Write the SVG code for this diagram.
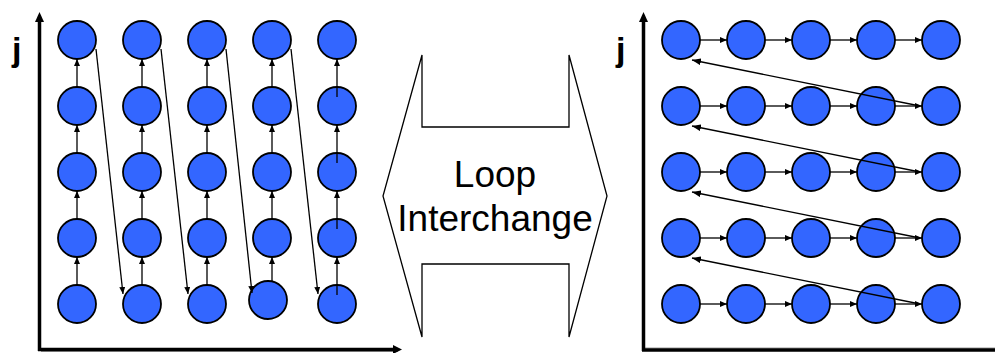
<svg xmlns="http://www.w3.org/2000/svg" width="995" height="353" viewBox="0 0 995 353">
<style>
.n{fill:#3366FF;stroke:#000;stroke-width:1.8}
.c{stroke:#000;stroke-width:1.3;fill:none}
.a{marker-end:url(#ah)}
.d{marker-end:url(#ahb)}
.ax{stroke:#000;stroke-width:3.5;fill:none}
.sh{stroke:#999;stroke-width:1;fill:none}
.lbl{font-family:"Liberation Sans",Arial,sans-serif;font-weight:bold;font-size:34px;fill:#000}
.big{font-family:"Liberation Sans",Arial,sans-serif;font-size:37px;fill:#000;text-anchor:middle}
</style>
<defs>
<marker id="ah" viewBox="0 0 7 6" refX="7" refY="3" markerWidth="7" markerHeight="6" markerUnits="userSpaceOnUse" orient="auto"><path d="M0,0L7,3L0,6z" fill="#000"/></marker>
<marker id="ahb" viewBox="0 0 9 7" refX="9" refY="3.5" markerWidth="9" markerHeight="7" markerUnits="userSpaceOnUse" orient="auto"><path d="M0,0L9,3.5L0,7z" fill="#000"/></marker>
</defs>

<g id="axes-left">
<line class="sh" x1="41" y1="351.5" x2="398" y2="351.5"/>
<line class="ax" x1="39.5" y1="351" x2="39.5" y2="20"/>
<path d="M39.5,12L44,22L35,22z" fill="#000"/>
<line class="ax" x1="38" y1="349.5" x2="394" y2="349.5"/>
<path d="M402,349.5L393,345L393,354z" fill="#000"/>
<text class="lbl" x="12" y="61">j</text>
</g>

<g id="axes-right">
<line class="sh" x1="645" y1="348" x2="995" y2="348"/>
<line class="ax" x1="643.5" y1="351" x2="643.5" y2="20"/>
<path d="M643.5,12L648,22L639,22z" fill="#000"/>
<line class="ax" x1="642" y1="350" x2="995" y2="350"/>
<text class="lbl" x="616" y="61">j</text>
</g>

<g id="interchange">
<path d="M422,55L422,127L569,127L569,55L607,196L569,337L569,264L422,264L422,337L383,196z" fill="#fff" stroke="#000" stroke-width="1.3"/>
<text class="big" x="495" y="187">Loop</text>
<text class="big" x="495" y="231">Interchange</text>
</g>

<g id="nodes-left">
<circle id="L00" class="n" cx="77" cy="40" r="19"/><circle id="L01" class="n" cx="77" cy="106" r="19"/><circle id="L02" class="n" cx="77" cy="172" r="19"/><circle id="L03" class="n" cx="77" cy="238" r="19"/><circle id="L04" class="n" cx="77" cy="304" r="19"/>
<circle id="L10" class="n" cx="142" cy="40" r="19"/><circle id="L11" class="n" cx="142" cy="106" r="19"/><circle id="L12" class="n" cx="142" cy="172" r="19"/><circle id="L13" class="n" cx="142" cy="238" r="19"/><circle id="L14" class="n" cx="142" cy="304" r="19"/>
<circle id="L20" class="n" cx="207" cy="40" r="19"/><circle id="L21" class="n" cx="207" cy="106" r="19"/><circle id="L22" class="n" cx="207" cy="172" r="19"/><circle id="L23" class="n" cx="207" cy="238" r="19"/><circle id="L24" class="n" cx="207" cy="304" r="19"/>
<circle id="L30" class="n" cx="272" cy="40" r="19"/><circle id="L31" class="n" cx="272" cy="106" r="19"/><circle id="L32" class="n" cx="272" cy="172" r="19"/><circle id="L33" class="n" cx="272" cy="238" r="19"/><circle id="L34" class="n" cx="268" cy="300" r="19"/>
<circle id="L40" class="n" cx="337" cy="40" r="19"/><circle id="L41" class="n" cx="337" cy="106" r="19"/><circle id="L42" class="n" cx="337" cy="172" r="19"/><circle id="L43" class="n" cx="337" cy="238" r="19"/><circle id="L44" class="n" cx="337" cy="304" r="19"/>
</g>

<g id="nodes-right">
<circle class="n" cx="681" cy="40" r="19"/><circle class="n" cx="746" cy="40" r="19"/><circle class="n" cx="811" cy="40" r="19"/><circle class="n" cx="876" cy="40" r="19"/><circle class="n" cx="941" cy="40" r="19"/>
<circle class="n" cx="681" cy="106" r="19"/><circle class="n" cx="746" cy="106" r="19"/><circle class="n" cx="811" cy="106" r="19"/><circle class="n" cx="876" cy="106" r="19"/><circle class="n" cx="941" cy="106" r="19"/>
<circle class="n" cx="681" cy="172" r="19"/><circle class="n" cx="746" cy="172" r="19"/><circle class="n" cx="811" cy="172" r="19"/><circle class="n" cx="876" cy="172" r="19"/><circle class="n" cx="941" cy="172" r="19"/>
<circle class="n" cx="681" cy="238" r="19"/><circle class="n" cx="746" cy="238" r="19"/><circle class="n" cx="811" cy="238" r="19"/><circle class="n" cx="876" cy="238" r="19"/><circle class="n" cx="941" cy="238" r="19"/>
<circle class="n" cx="681" cy="304" r="19"/><circle class="n" cx="746" cy="304" r="19"/><circle class="n" cx="811" cy="304" r="19"/><circle class="n" cx="876" cy="304" r="19"/><circle class="n" cx="941" cy="304" r="19"/>
</g>

<g id="connectors">
<!-- left verticals -->
<line class="c a" x1="77" y1="285" x2="77" y2="257"/><line class="c a" x1="77" y1="219" x2="77" y2="191"/><line class="c a" x1="77" y1="153" x2="77" y2="125"/><line class="c a" x1="77" y1="87" x2="77" y2="59"/>
<line class="c a" x1="142" y1="285" x2="142" y2="257"/><line class="c a" x1="142" y1="219" x2="142" y2="191"/><line class="c a" x1="142" y1="153" x2="142" y2="125"/><line class="c a" x1="142" y1="87" x2="142" y2="59"/>
<line class="c a" x1="207" y1="285" x2="207" y2="257"/><line class="c a" x1="207" y1="219" x2="207" y2="191"/><line class="c a" x1="207" y1="153" x2="207" y2="125"/><line class="c a" x1="207" y1="87" x2="207" y2="59"/>
<line class="c a" x1="272" y1="281" x2="272" y2="257"/><line class="c a" x1="272" y1="219" x2="272" y2="191"/><line class="c a" x1="272" y1="153" x2="272" y2="125"/><line class="c a" x1="272" y1="87" x2="272" y2="59"/>
<line class="c a" x1="337" y1="295" x2="337" y2="257"/><line class="c a" x1="337" y1="229" x2="337" y2="191"/><line class="c a" x1="337" y1="163" x2="337" y2="125"/><line class="c a" x1="337" y1="97" x2="337" y2="59"/>
<!-- left diagonals -->
<line class="c a" x1="96" y1="49" x2="123" y2="294"/>
<line class="c a" x1="161" y1="49" x2="188" y2="294"/>
<line class="c a" x1="226" y1="49" x2="252" y2="293"/>
<line class="c a" x1="291" y1="49" x2="318" y2="294"/>
<!-- right horizontals -->
<line class="c a" x1="700" y1="40" x2="727" y2="40"/><line class="c a" x1="765" y1="40" x2="792" y2="40"/><line class="c a" x1="830" y1="40" x2="857" y2="40"/><line class="c a" x1="895" y1="40" x2="922" y2="40"/>
<line class="c a" x1="700" y1="106" x2="727" y2="106"/><line class="c a" x1="765" y1="106" x2="792" y2="106"/><line class="c a" x1="830" y1="106" x2="857" y2="106"/><line class="c a" x1="895" y1="106" x2="922" y2="106"/>
<line class="c a" x1="700" y1="172" x2="727" y2="172"/><line class="c a" x1="765" y1="172" x2="792" y2="172"/><line class="c a" x1="830" y1="172" x2="857" y2="172"/><line class="c a" x1="895" y1="172" x2="922" y2="172"/>
<line class="c a" x1="700" y1="238" x2="727" y2="238"/><line class="c a" x1="765" y1="238" x2="792" y2="238"/><line class="c a" x1="830" y1="238" x2="857" y2="238"/><line class="c a" x1="895" y1="238" x2="922" y2="238"/>
<line class="c a" x1="700" y1="304" x2="727" y2="304"/><line class="c a" x1="765" y1="304" x2="792" y2="304"/><line class="c a" x1="830" y1="304" x2="857" y2="304"/><line class="c a" x1="895" y1="304" x2="922" y2="304"/>
<!-- right diagonals -->
<line class="c d" x1="920" y1="106" x2="692" y2="60"/>
<line class="c d" x1="920" y1="172" x2="692" y2="126"/>
<line class="c d" x1="920" y1="238" x2="692" y2="192"/>
<line class="c d" x1="920" y1="304" x2="692" y2="258"/>
</g>
</svg>
